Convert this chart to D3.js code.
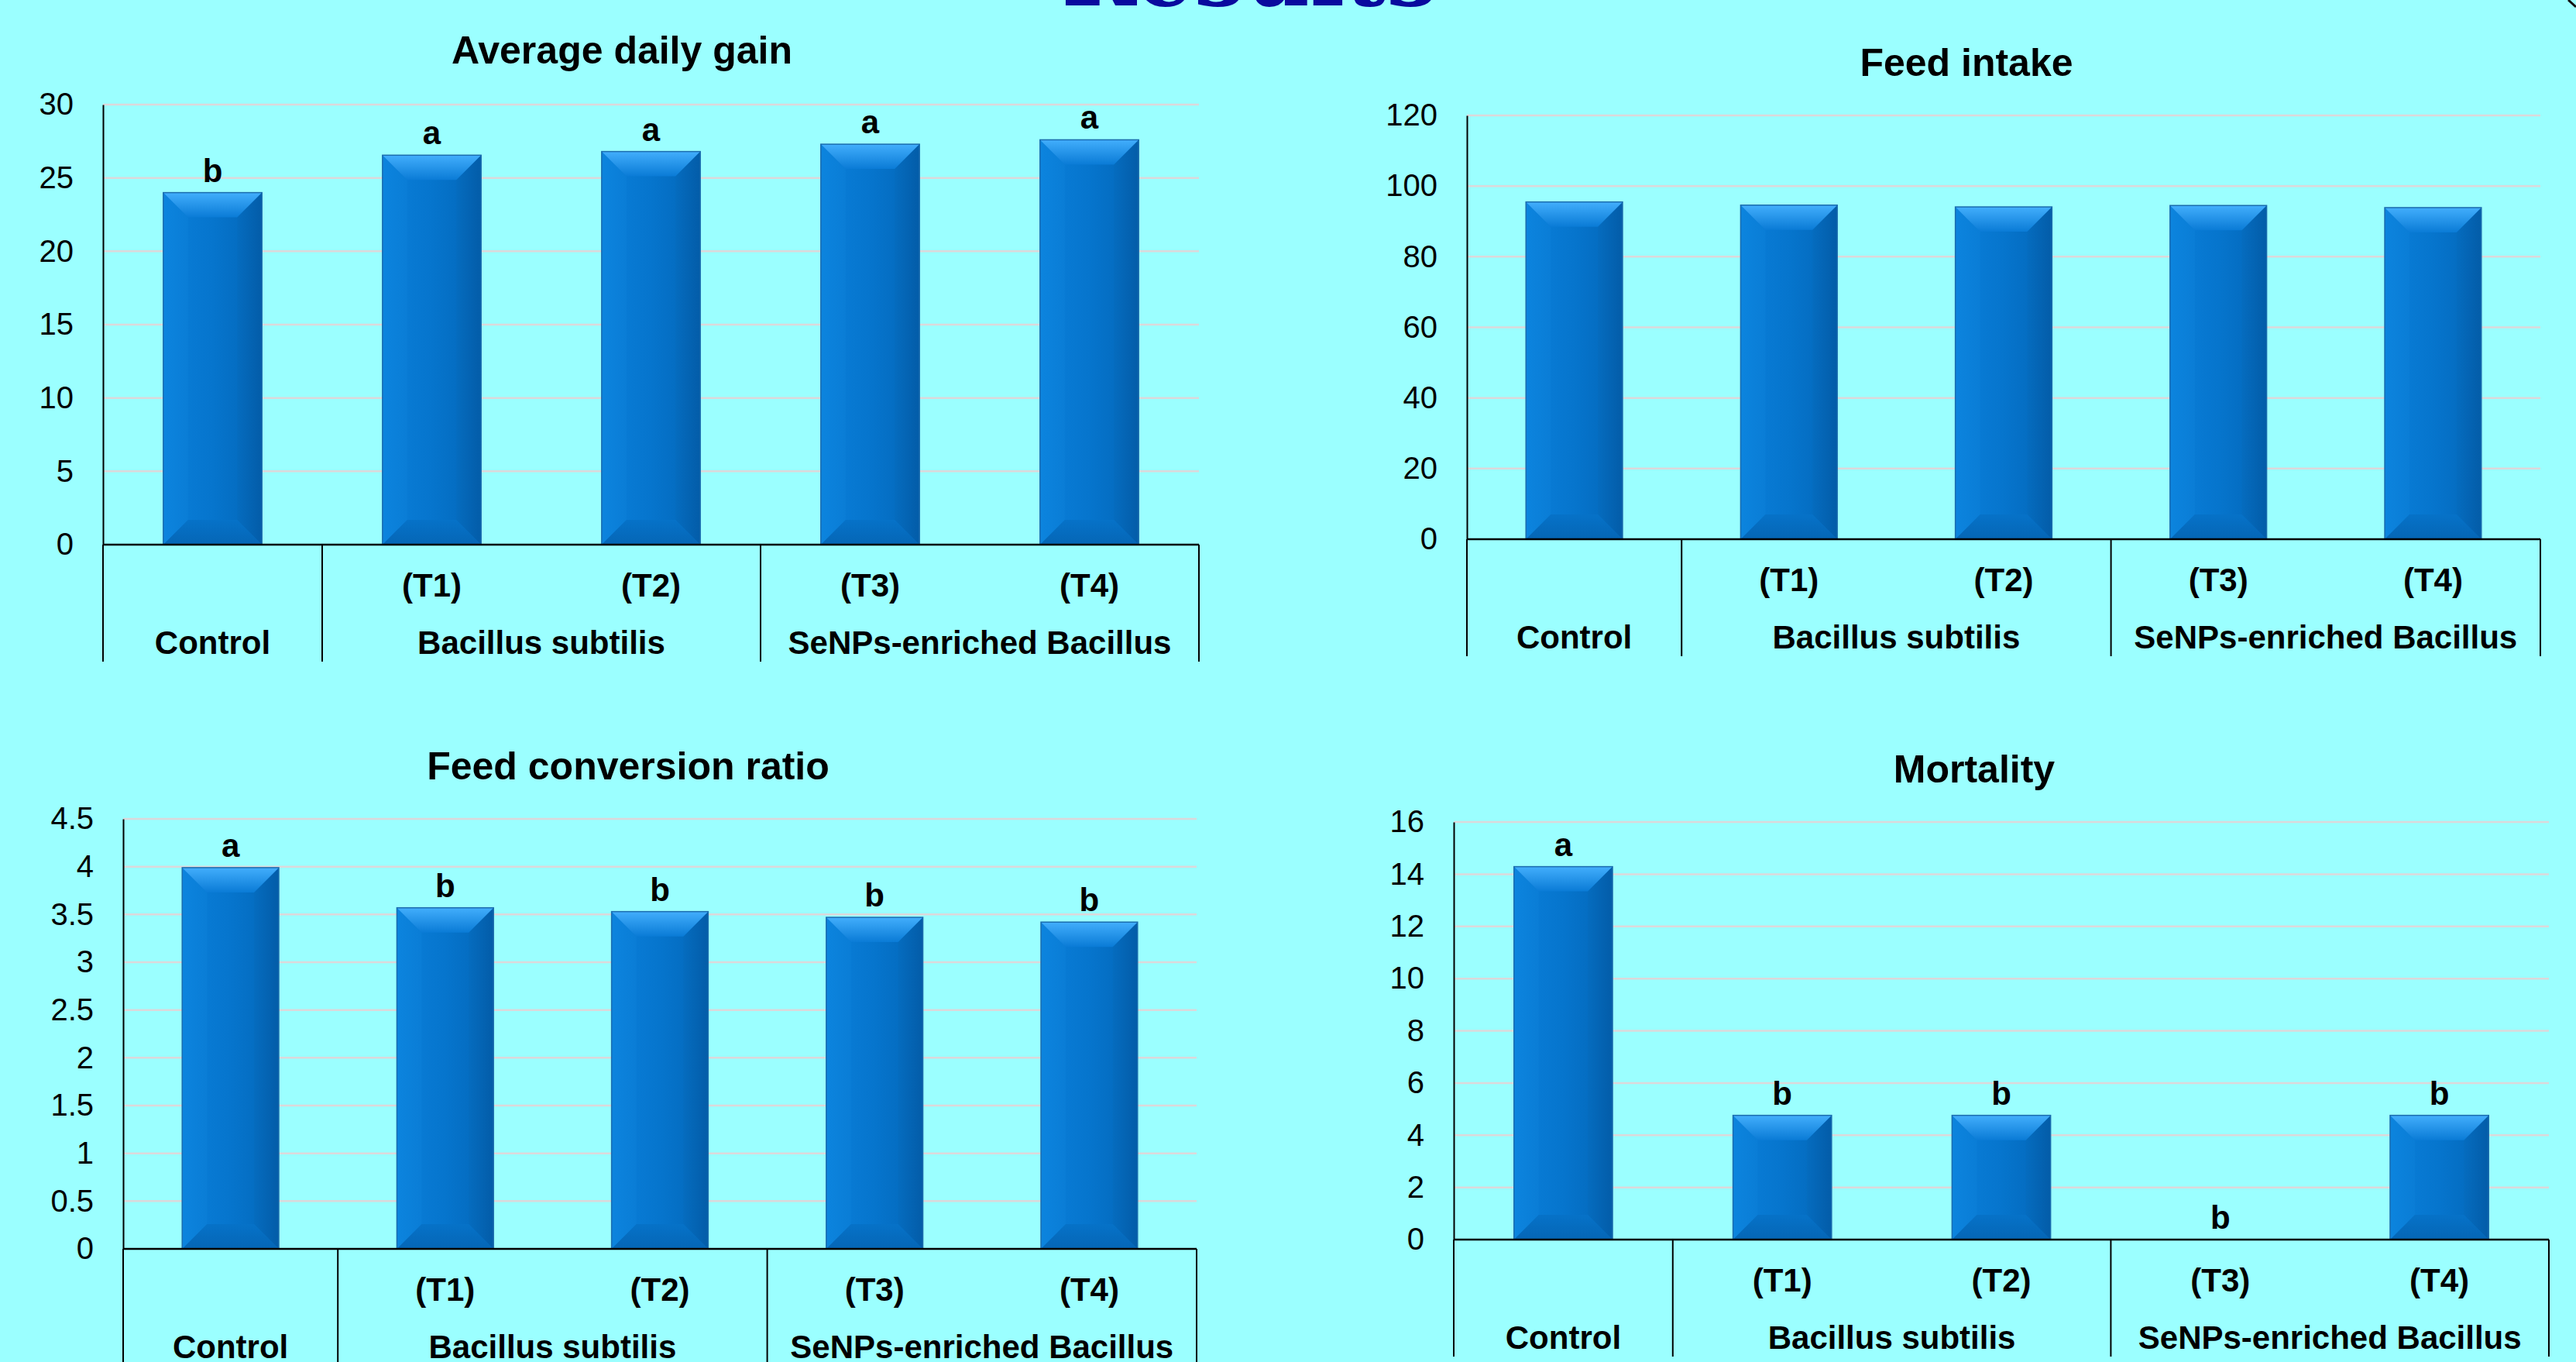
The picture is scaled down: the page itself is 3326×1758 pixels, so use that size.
<!DOCTYPE html>
<html>
<head>
<meta charset="utf-8">
<script src="https://cdn.jsdelivr.net/npm/d3@7"></script>
<style>
  html, body { margin:0; padding:0; background:#9bffff; }
  svg { display:block; }
</style>
</head>
<body>
<div id="slide"></div>
<script>
// categories shared by the four charts
var categories = ["Control", "T1", "T2", "T3", "T4"];
var subLabels  = ["", "(T1)", "(T2)", "(T3)", "(T4)"];
var groups     = ["Control", "Bacillus subtilis", "SeNPs-enriched Bacillus"];
var groupSpans = [1, 2, 2];

// values
var adgValues   = [24.0, 26.55, 26.8, 27.3, 27.6];
var adgLetters  = ["b", "a", "a", "a", "a"];
var adgTicks    = [0, 5, 10, 15, 20, 25, 30];

var fiValues    = [95.5, 94.6, 94.1, 94.5, 93.9];
var fiLetters   = ["", "", "", "", ""];
var fiTicks     = [0, 20, 40, 60, 80, 100, 120];

var fcrValues   = [3.99, 3.57, 3.53, 3.47, 3.42];
var fcrLetters  = ["a", "b", "b", "b", "b"];
var fcrTicks    = [0, 0.5, 1, 1.5, 2, 2.5, 3, 3.5, 4, 4.5];

var mortValues  = [14.29, 4.76, 4.76, 0, 4.76];
var mortLetters = ["a", "b", "b", "b", "b"];
var mortTicks   = [0, 2, 4, 6, 8, 10, 12, 14, 16];

var W = 3326, H = 1758;
var sans = "'Liberation Sans', Arial, sans-serif";

var panels = [
    {title:"Average daily gain",    values:adgValues,  letters:adgLetters,  ticks:adgTicks,
     left:133,  right:1548, top:135,  bottom:703,  titleX:803,  titleY:82},
    {title:"Feed intake",           values:fiValues,   letters:fiLetters,   ticks:fiTicks,
     left:1894, right:3280, top:149,  bottom:696,  titleX:2539, titleY:98},
    {title:"Feed conversion ratio", values:fcrValues,  letters:fcrLetters,  ticks:fcrTicks,
     left:159,  right:1545, top:1057, bottom:1612, titleX:811,  titleY:1006},
    {title:"Mortality",             values:mortValues, letters:mortLetters, ticks:mortTicks,
     left:1877, right:3291, top:1061, bottom:1600, titleX:2549, titleY:1010}
];

var svg = d3.select("#slide").append("svg")
    .attr("width", W)
    .attr("height", H);

svg.append("rect").attr("width", W).attr("height", H).style("fill", "#9bffff");

// gradients for the bevelled bars
var defs = svg.append("defs");
function grad(id, x2, y2, stops){
    var g = defs.append("linearGradient").attr("id", id)
        .attr("x1", 0).attr("y1", 0).attr("x2", x2).attr("y2", y2);
    stops.forEach(function(s){
        g.append("stop").attr("offset", s[0]).attr("stop-color", s[1]);
    });
}
grad("faceGrad",   1, 0, [[0, "#0a7fda"], [0.5, "#0675cd"], [1, "#0366b8"]]);
grad("topGrad",    0, 1, [[0, "#42aefc"], [1, "#0a7bd6"]]);
grad("bottomGrad", 0, 1, [[0, "#0672c8"], [1, "#0566b6"]]);
grad("leftGrad",   1, 0, [[0, "#0c84de"], [1, "#0a7dd6"]]);
grad("rightGrad",  1, 0, [[0, "#056cbf"], [1, "#035ca8"]]);

// title of the slide, mostly off the top edge
svg.append("text")
    .attr("x", 1613)
    .attr("y", 7)
    .attr("text-anchor", "middle")
    .attr("textLength", 485)
    .attr("lengthAdjust", "spacingAndGlyphs")
    .style("font-family", "'DejaVu Serif', 'Liberation Serif', serif")
    .style("font-weight", "bold")
    .style("font-size", "120px")
    .style("fill", "#0a0a9e")
    .text("Results");

svg.append("line")
    .attr("x1", 3316).attr("y1", 0).attr("x2", 3326).attr("y2", 9)
    .style("stroke", "#111").style("stroke-width", 3);

var drawBar = function(g, x, y, w, h){
    if(h <= 0) return;
    var d = Math.min(32, h/2, w/2);
    var pts = function(a){ return a.map(function(p){ return p.join(","); }).join(" "); };
    g.append("rect")
        .attr("x", x).attr("y", y).attr("width", w).attr("height", h)
        .style("fill", "url(#faceGrad)");
    g.append("polygon")
        .attr("points", pts([[x,y],[x+d,y+d],[x+d,y+h-d],[x,y+h]]))
        .style("fill", "url(#leftGrad)");
    g.append("polygon")
        .attr("points", pts([[x+w,y],[x+w-d,y+d],[x+w-d,y+h-d],[x+w,y+h]]))
        .style("fill", "url(#rightGrad)");
    g.append("polygon")
        .attr("points", pts([[x,y],[x+w,y],[x+w-d,y+d],[x+d,y+d]]))
        .style("fill", "url(#topGrad)");
    g.append("polygon")
        .attr("points", pts([[x,y+h],[x+w,y+h],[x+w-d,y+h-d],[x+d,y+h-d]]))
        .style("fill", "url(#bottomGrad)");
    g.append("rect")
        .attr("x", x).attr("y", y).attr("width", w).attr("height", h)
        .style("fill", "none")
        .style("stroke", "#1b6cae")
        .style("stroke-width", 1.5);
};

var drawPanel = function(p){
    var w = p.right - p.left, h = p.bottom - p.top;
    var g = svg.append("g").attr("transform", "translate(" + p.left + "," + p.top + ")");

    var x = d3.scaleBand()
        .domain(categories)
        .range([0, w])
        .paddingInner(0.55)
        .paddingOuter(0.275);
    var y = d3.scaleLinear()
        .domain([0, p.ticks[p.ticks.length - 1]])
        .range([h, 0]);

    // gridlines
    g.append("g")
        .selectAll("line.grid")
        .data(p.ticks.filter(function(t){ return t > 0; }))
        .enter().append("line")
        .attr("class", "grid")
        .attr("x1", 0).attr("x2", w)
        .attr("y1", function(t){ return y(t); })
        .attr("y2", function(t){ return y(t); })
        .style("stroke", "#dcd8da")
        .style("stroke-width", 2.5);

    // y axis
    var yAxis = d3.axisLeft(y)
        .tickValues(p.ticks)
        .tickSize(0)
        .tickSizeOuter(0)
        .tickPadding(38)
        .tickFormat(d3.format("~g"));
    var ga = g.append("g").call(yAxis);
    ga.select(".domain").style("stroke", "#000").style("stroke-width", 2);
    ga.selectAll("text")
        .style("font-family", sans)
        .style("font-size", "40px")
        .style("fill", "#000");

    // bars
    var bars = g.append("g");
    p.values.forEach(function(v, i){
        var bx = x(categories[i]);
        drawBar(bars, bx, y(v), x.bandwidth(), h - y(v));
    });

    // significance letters
    g.append("g").selectAll("text")
        .data(p.values)
        .enter().append("text")
        .attr("x", function(v, i){ return x(categories[i]) + x.bandwidth()/2; })
        .attr("y", function(v){ return y(v) - 14; })
        .attr("text-anchor", "middle")
        .style("font-family", sans)
        .style("font-weight", "bold")
        .style("font-size", "42px")
        .text(function(v, i){ return p.letters[i]; });

    // category box
    var box = g.append("g").attr("transform", "translate(0," + h + ")");
    box.append("line")
        .attr("x1", 0).attr("x2", w).attr("y1", 0).attr("y2", 0)
        .style("stroke", "#000").style("stroke-width", 2.5);
    var bounds = [0], acc = 0;
    groupSpans.forEach(function(s){ acc += s; bounds.push(acc); });
    box.selectAll("line.div")
        .data(bounds)
        .enter().append("line")
        .attr("class", "div")
        .attr("x1", function(b){ return b * x.step(); })
        .attr("x2", function(b){ return b * x.step(); })
        .attr("y1", 0).attr("y2", 151)
        .style("stroke", "#000").style("stroke-width", 2);

    box.selectAll("text.sub")
        .data(subLabels)
        .enter().append("text")
        .attr("class", "sub")
        .attr("x", function(d, i){ return x(categories[i]) + x.bandwidth()/2; })
        .attr("y", 67)
        .attr("text-anchor", "middle")
        .style("font-family", sans)
        .style("font-weight", "bold")
        .style("font-size", "42px")
        .text(function(d){ return d; });

    box.selectAll("text.grp")
        .data(groups)
        .enter().append("text")
        .attr("class", "grp")
        .attr("x", function(d, i){ return (bounds[i] + bounds[i+1]) / 2 * x.step(); })
        .attr("y", 141)
        .attr("text-anchor", "middle")
        .style("font-family", sans)
        .style("font-weight", "bold")
        .style("font-size", "42px")
        .text(function(d){ return d; });

    // chart title
    svg.append("text")
        .attr("x", p.titleX)
        .attr("y", p.titleY)
        .attr("text-anchor", "middle")
        .style("font-family", sans)
        .style("font-weight", "bold")
        .style("font-size", "50px")
        .text(p.title);
};

panels.forEach(drawPanel);
</script>
</body>
</html>
